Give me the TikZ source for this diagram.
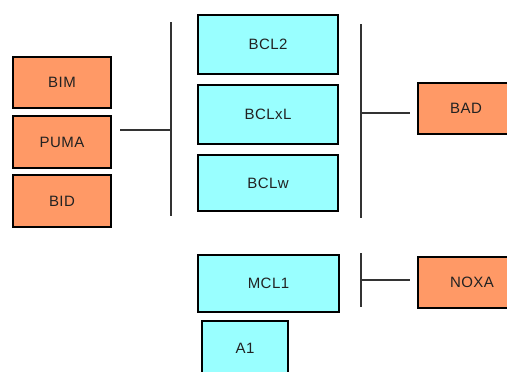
\documentclass[tikz,border=0pt]{standalone}
\usepackage{fontspec}
\setmainfont[LetterSpace=3]{Liberation Sans}
\definecolor{boxorange}{HTML}{FF9966}
\definecolor{boxcyan}{HTML}{99FFFF}
\definecolor{linegray}{HTML}{333333}
\definecolor{txtgray}{HTML}{222222}
\begin{document}
\begin{tikzpicture}[x=1pt,y=-1pt,
  gene/.style={draw=black,line width=1.3pt,rectangle,inner sep=0pt,
    font=\fontsize{15}{17}\selectfont,text=txtgray},
  ligand/.style={gene,fill=boxorange},
  protein/.style={gene,fill=boxcyan},
  conn/.style={draw=linegray,line width=1.4pt}]
\useasboundingbox (0,0) rectangle (507,372);
\clip (0,0) rectangle (507,372);
\fill[white] (0,0) rectangle (507,372);
% left group
\node[ligand,minimum width=98pt,minimum height=51pt] (BIM) at (62,82.5) {BIM};
\node[ligand,minimum width=98pt,minimum height=52pt] (PUMA) at (62,142) {PUMA};
\node[ligand,minimum width=98pt,minimum height=52pt] (BID) at (62,201) {BID};
% middle group
\node[protein,minimum width=140pt,minimum height=59pt] (BCL2) at (268,44.5) {BCL2};
\node[protein,minimum width=140pt,minimum height=59pt] (BCLxL) at (268,114.5) {BCLxL};
\node[protein,minimum width=140pt,minimum height=56pt] (BCLw) at (268,183) {BCLw};
\node[protein,minimum width=141pt,minimum height=57pt] (MCL1) at (268.5,283.5) {MCL1};
\node[protein,minimum width=86pt,minimum height=54pt] (A1) at (245,348) {A1};
% right group
\node[ligand,minimum width=96pt,minimum height=51pt] (BAD) at (466,108.5) {BAD};
\node[ligand,minimum width=108pt,minimum height=51pt] (NOXA) at (472,282.5) {NOXA};
% bars
\coordinate (lbarT) at (171,22);
\coordinate (lbarB) at (171,216);
\coordinate (lbarM) at (171,130);
\coordinate (pumaEnd) at (120,130);
\coordinate (rbarT) at (361,24);
\coordinate (rbarB) at (361,218);
\coordinate (rbarM) at (361,113);
\coordinate (badEnd) at (410,113);
\coordinate (mbarT) at (361,253);
\coordinate (mbarB) at (361,307);
\coordinate (mbarM) at (361,280);
\coordinate (noxaEnd) at (410,280);
\draw[conn] (lbarT) -- (lbarB);
\draw[conn] (pumaEnd) -- (lbarM);
\draw[conn] (rbarT) -- (rbarB);
\draw[conn] (rbarM) -- (badEnd);
\draw[conn] (mbarT) -- (mbarB);
\draw[conn] (mbarM) -- (noxaEnd);
\end{tikzpicture}
\end{document}
